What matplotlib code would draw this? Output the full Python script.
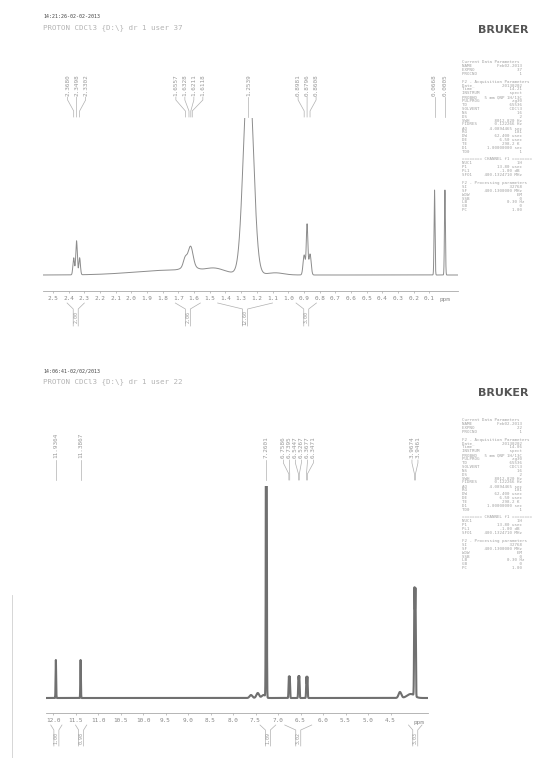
import numpy as np
import matplotlib.pyplot as plt

W, H = 534, 758

# oberes Spektrum (Lage ppm, Hoehe, Breite ppm)
TOP_PEAKS = [2.3680, 2.3498, 2.3302, 1.6557, 1.6328, 1.6211, 1.6118, 1.2539,
             0.8981, 0.8796, 0.8608, 0.0668, 0.0005]
TOP_HEIGHTS = [17, 34, 17, 9, 8, 8, 8, 214, 20, 50, 21, 85, 85]
TOP_WIDTHS = [0.005, 0.005, 0.005, 0.012, 0.01, 0.01, 0.012, 0.0306,
              0.007, 0.005, 0.007, 0.003, 0.003]
TOP_BROAD = [1.72, 1.63, 1.47, 1.08]
TOP_BROAD_H = [5, 6, 4, 2]
TOP_BROAD_W = [0.25, 0.035, 0.06, 0.05]
TOP_TICKS = [2.5, 2.4, 2.3, 2.2, 2.1, 2.0, 1.9, 1.8, 1.7, 1.6, 1.5, 1.4, 1.3,
             1.2, 1.1, 1.0, 0.9, 0.8, 0.7, 0.6, 0.5, 0.4, 0.3, 0.2, 0.1]
TOP_GROUPS = [[2.3680, 2.3498, 2.3302], [1.6557, 1.6328, 1.6211, 1.6118],
              [1.2539], [0.8981, 0.8796, 0.8608], [0.0668], [0.0005]]
TOP_INT_FROM = [2.41, 1.72, 1.45, 0.95]
TOP_INT_TO = [2.30, 1.56, 1.10, 0.82]
TOP_INT_VAL = ["2.00", "2.06", "12.60", "3.00"]

# unteres Spektrum
BOT_PEAKS = [11.9364, 11.3867, 7.2601, 6.7586, 6.7395, 6.5447, 6.5267,
             6.3677, 6.3471, 3.9674, 3.9461]
BOT_HEIGHTS = [38, 38, 500, 21, 21, 21, 21, 21, 21, 105, 105]
BOT_WIDTHS = [0.006, 0.006, 0.008, 0.007, 0.007, 0.007, 0.007, 0.007, 0.007,
              0.008, 0.008]
BOT_BROAD = [7.6, 7.45, 7.32, 4.29, 4.05]
BOT_BROAD_H = [3, 5, 3, 6, 4]
BOT_BROAD_W = [0.03, 0.03, 0.04, 0.03, 0.08]
BOT_TICKS = [12.0, 11.5, 11.0, 10.5, 10.0, 9.5, 9.0, 8.5, 8.0, 7.5, 7.0,
             6.5, 6.0, 5.5, 5.0, 4.5]
BOT_GROUPS = [[11.9364], [11.3867], [7.2601],
              [6.7586, 6.7395, 6.5447, 6.5267, 6.3677, 6.3471],
              [3.9674, 3.9461]]
BOT_INT_FROM = [12.05, 11.50, 7.40, 6.85, 4.10]
BOT_INT_TO = [11.80, 11.25, 7.05, 6.25, 3.80]
BOT_INT_VAL = ["1.00", "0.98", "1.09", "3.02", "3.03"]

PARAMS_TOP = [
    "Current Data Parameters",
    "NAME          Feb02-2013",
    "EXPNO                 37",
    "PROCNO                 1",
    "",
    "F2 - Acquisition Parameters",
    "Date_           20130202",
    "Time               14.21",
    "INSTRUM            spect",
    "PROBHD   5 mm QNP 1H/13C",
    "PULPROG             zg30",
    "TD                 65536",
    "SOLVENT            CDCl3",
    "NS                    16",
    "DS                     2",
    "SWH          8012.820 Hz",
    "FIDRES       0.122266 Hz",
    "AQ         4.0894465 sec",
    "RG                   181",
    "DW           62.400 usec",
    "DE             6.50 usec",
    "TE              298.2 K",
    "D1        1.00000000 sec",
    "TD0                    1",
    "",
    "======== CHANNEL f1 ========",
    "NUC1                  1H",
    "P1            13.80 usec",
    "PL1            -1.00 dB",
    "SFO1     400.1324710 MHz",
    "",
    "F2 - Processing parameters",
    "SI                 32768",
    "SF       400.1300000 MHz",
    "WDW                   EM",
    "SSB                    0",
    "LB                0.30 Hz",
    "GB                     0",
    "PC                  1.00",
]
PARAMS_BOT = [l.replace("37", "22").replace("14.21", "14.06") for l in PARAMS_TOP]

LINE = "#8c8c8c"
TXT = "#9a9a9a"


def fx(px):
    return px / W


def fy(py):
    return 1 - py / H


def spektrum(ax, peaks, heights, widths, broad, broad_h, broad_w, lo, hi, lw, col):
    x = np.linspace(lo, hi, 12000)
    y = np.zeros_like(x)
    for p, h, s in zip(peaks + broad, heights + broad_h, widths + broad_w):
        y += h * np.exp(-0.5 * ((x - p) / s) ** 2)
    ax.plot(x, y, color=col, lw=lw)
    ax.set_xlim(lo, hi)


def achse(ax, ticks, fmt):
    for s in ["top", "left", "right"]:
        ax.spines[s].set_visible(False)
    ax.spines["bottom"].set_color("#aaaaaa")
    ax.spines["bottom"].set_linewidth(0.6)
    ax.set_yticks([])
    ax.set_xticks(ticks)
    ax.set_xticklabels([fmt % t for t in ticks], fontsize=4.3, color="#888888",
                       family="DejaVu Sans Mono")
    ax.tick_params(axis="x", length=1.5, width=0.5, color="#aaaaaa", pad=2)
    ax.patch.set_alpha(0)


def labels(ax, groups, ppx, spacing, top_px, bot_px, y_txt, y1, y2, y3, y4):
    tr = ax.get_xaxis_transform()
    f = lambda v: (bot_px - v) / (bot_px - top_px)
    step = spacing / ppx
    for grp in groups:
        c = np.mean(grp)
        n = len(grp)
        for i, p in enumerate(grp):
            lx = c + ((n - 1) / 2 - i) * step
            ax.text(lx, f(y_txt), "%.4f" % p, rotation=90, ha="center", va="bottom",
                    transform=tr, fontsize=4.3, color=TXT, family="DejaVu Sans Mono")
            ax.plot([lx, lx, p, p], [f(y1), f(y2), f(y3), f(y4)], transform=tr,
                    clip_on=False, color="#b0b0b0", lw=0.5)


def integrale(ax, p_from, p_to, vals, ppx, top_px, bot_px, y0, y1, y2):
    tr = ax.get_xaxis_transform()
    f = lambda v: (bot_px - v) / (bot_px - top_px)
    d = 2.5 / ppx
    for a, b, v in zip(p_from, p_to, vals):
        c = (a + b) / 2
        ax.plot([a, c + d, c + d], [f(y0), f(y1), f(y2)], transform=tr,
                clip_on=False, color="#b0b0b0", lw=0.5)
        ax.plot([b, c - d, c - d], [f(y0), f(y1), f(y2)], transform=tr,
                clip_on=False, color="#b0b0b0", lw=0.5)
        ax.text(c, f((y1 + y2) / 2), v, rotation=90, ha="center", va="center",
                transform=tr, fontsize=3.6, color=TXT, family="DejaVu Sans Mono")


fig = plt.figure(figsize=(W / 100, H / 100), dpi=100)
fig.patch.set_facecolor("white")

# --- oben ---
T_L, T_R, T_TOP, T_BOT = 43, 458, 118, 291
ppx_t = 157.0
lo_t = 2.5 + (53 - T_L) / ppx_t
hi_t = -(T_R - 445) / ppx_t
ax1 = fig.add_axes([fx(T_L), fy(T_BOT), fx(T_R - T_L), (T_BOT - T_TOP) / H])
spektrum(ax1, TOP_PEAKS, TOP_HEIGHTS, TOP_WIDTHS, TOP_BROAD, TOP_BROAD_H, TOP_BROAD_W,
         lo_t, hi_t, 0.7, LINE)
ax1.set_ylim(-16, T_BOT - 16 - T_TOP)
achse(ax1, TOP_TICKS, "%.1f")
ax1.text(0.0, -0.035, "ppm", transform=ax1.get_xaxis_transform(), ha="center", va="top",
         fontsize=4.3, color="#888888", family="DejaVu Sans Mono")
labels(ax1, TOP_GROUPS, ppx_t, 9, T_TOP, T_BOT, 96, 97, 100, 111, 117)
integrale(ax1, TOP_INT_FROM, TOP_INT_TO, TOP_INT_VAL, ppx_t, T_TOP, T_BOT, 303, 309, 326)

# --- unten ---
B_L, B_R, B_TOP, B_BOT = 46, 428, 486, 713
ppx_b = 45.0
lo_b = 12.0 + (53 - B_L) / ppx_b
hi_b = 12.0 - (B_R - 53) / ppx_b
ax2 = fig.add_axes([fx(B_L), fy(B_BOT), fx(B_R - B_L), (B_BOT - B_TOP) / H])
spektrum(ax2, BOT_PEAKS, BOT_HEIGHTS, BOT_WIDTHS, BOT_BROAD, BOT_BROAD_H, BOT_BROAD_W,
         lo_b, hi_b, 1.5, "#707070")
ax2.set_ylim(-15, B_BOT - 15 - B_TOP)
achse(ax2, BOT_TICKS, "%.1f")
ax2.text(0.975, -0.03, "ppm", transform=ax2.transAxes, ha="center", va="top",
         fontsize=4.3, color="#888888", family="DejaVu Sans Mono")
labels(ax2, BOT_GROUPS, ppx_b, 6, B_TOP, B_BOT, 458, 460, 463, 474, 480)
integrale(ax2, BOT_INT_FROM, BOT_INT_TO, BOT_INT_VAL, ppx_b, B_TOP, B_BOT, 725, 730, 746)

# Kopfzeilen
for y0, stamp, user in [(17, "14:21:26-02-02-2013", "37"), (371, "14:06:41-02/02/2013", "22")]:
    fig.text(fx(43), fy(y0), stamp, fontsize=3.6, color="#444444", va="center",
             family="DejaVu Sans Mono")
    fig.text(fx(43), fy(y0 + 11), "PROTON CDCl3 {D:\\} dr 1 user " + user, fontsize=5.4,
             color="#b4b4b4", va="center", family="DejaVu Sans Mono")

for y0 in [30, 393]:
    fig.text(fx(478), fy(y0), "BRUKER", fontsize=8, fontweight="bold", color="#555555",
             va="center", family="DejaVu Sans")

for y0, block in [(62, PARAMS_TOP), (420, PARAMS_BOT)]:
    for i, line in enumerate(block):
        fig.text(fx(462), fy(y0 + i * 3.9), line, fontsize=3.0, color="#a0a0a0",
                 va="center", family="DejaVu Sans Mono")

# Scanrand
fig.add_artist(plt.Line2D([fx(12), fx(12)], [fy(595), fy(758)], color="#d0d0d0", lw=0.6))

fig.savefig("out.png", dpi=100, facecolor="white")
